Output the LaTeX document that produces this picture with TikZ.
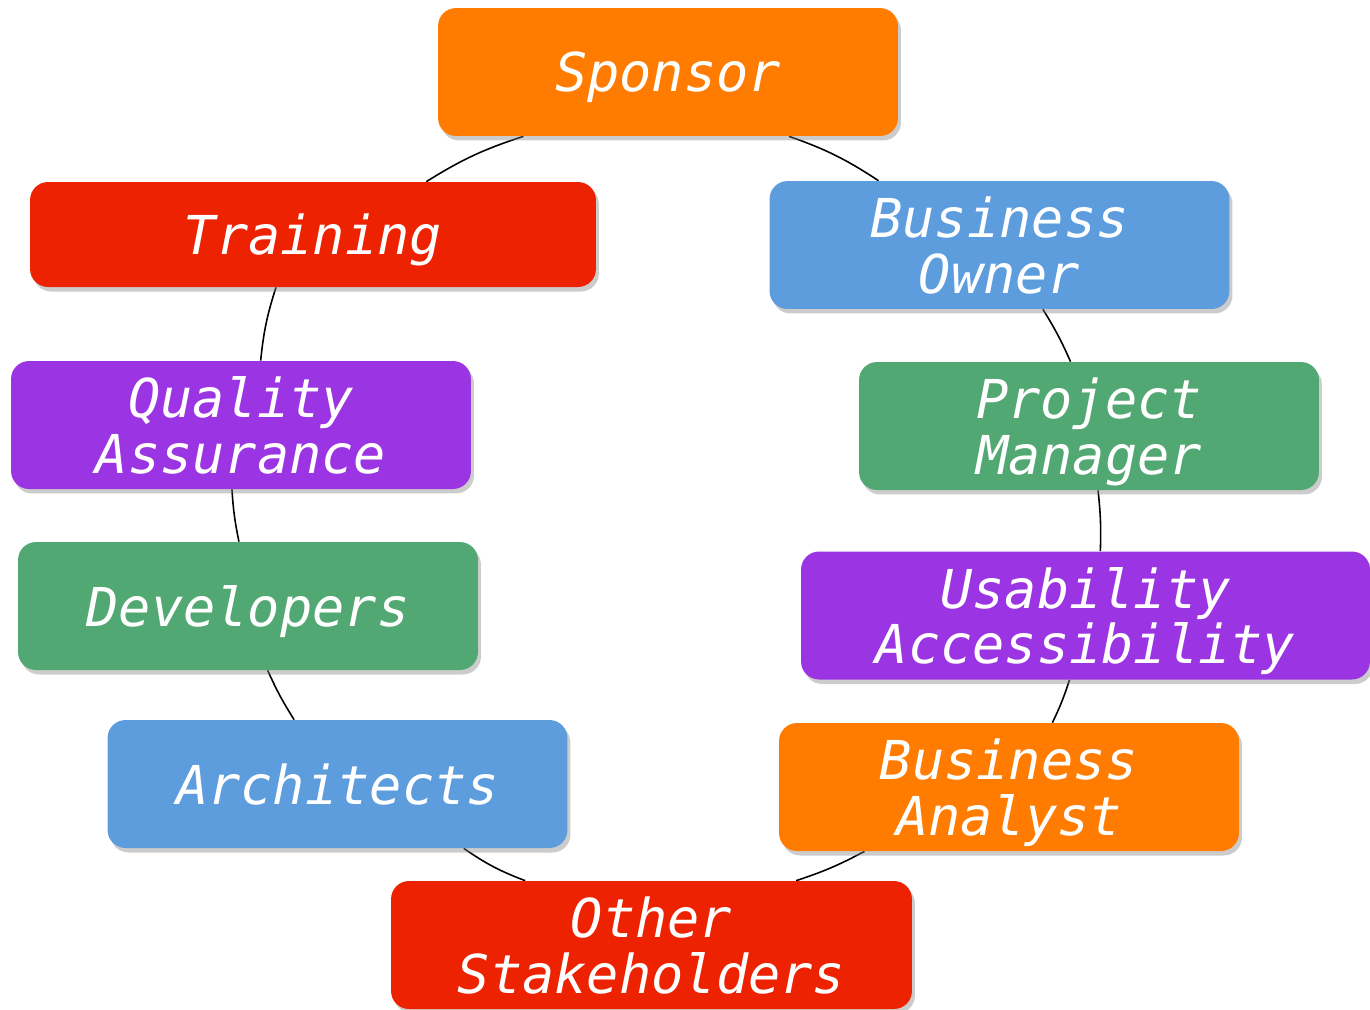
\documentclass[tikz,border=0pt]{standalone}
\usepackage{fontspec}
\setmonofont{DejaVu Sans Mono}
\usetikzlibrary{shadows,backgrounds}
\definecolor{rolorange}{RGB}{255,124,0}
\definecolor{rolred}{RGB}{237,34,0}
\definecolor{rolblue}{RGB}{93,157,222}
\definecolor{rolpurple}{RGB}{155,53,227}
\definecolor{rolgreen}{RGB}{82,168,114}

\begin{document}
\begin{tikzpicture}[x=0.02cm,y=-0.02cm,
    role/.style={rounded corners=0.36cm, minimum width=9.2cm, minimum height=2.56cm,
      inner sep=0pt, text=white, align=center, text depth=0pt,
      font=\fontsize{30.5}{31.5}\selectfont\ttfamily\itshape,
      drop shadow={opacity=0.4,shadow xshift=0.06cm,shadow yshift=-0.09cm}},
    link/.style={black, line width=0.9pt}]
  \useasboundingbox (0,0) rectangle (1370,1009);
  % boxes round the circle
  \node [role, fill=rolorange] (sponsor) at (668,72) {Sponsor};
  \node [role, fill=rolred, minimum width=11.32cm, minimum height=2.1cm] (training) at (313,234.5) {Training};
  \node [role, fill=rolblue] (owner) at (999.5,245) {Business\\Owner};
  \node [role, fill=rolpurple] (quality) at (241,425) {Quality\\Assurance};
  \node [role, fill=rolgreen] (manager) at (1089,426) {Project\\Manager};
  \node [role, fill=rolgreen] (developers) at (248,606) {Developers};
  \node [role, fill=rolpurple, minimum width=11.38cm] (usability) at (1085.5,615.5) {Usability\\Accessibility};
  \node [role, fill=rolblue] (architects) at (337.5,784) {Architects};
  \node [role, fill=rolorange] (analyst) at (1009,787) {Business\\Analyst};
  \node [role, fill=rolred, minimum width=10.42cm] (others) at (651.5,945) {Other\\Stakeholders};
  % arcs between the boxes
  \begin{scope}[on background layer]
    \draw [link] (sponsor.204) to[bend right=7] (training.25);
    \draw [link] (training.235) to[bend right=6] (quality.73);
    \draw [link] (quality.262) to[bend right=4] (developers.98);
    \draw [link] (developers.287) to[bend right=4] (architects.124);
    \draw [link] (architects.333) to[bend right=7] (others.153);
    \draw [link] (others.24) to[bend right=5] (analyst.204);
    \draw [link] (analyst.56) to[bend right=4] (usability.256);
    \draw [link] (usability.77) to[bend right=4] (manager.278);
    \draw [link] (manager.106) to[bend right=4] (owner.304);
    \draw [link] (owner.152) to[bend right=7] (sponsor.332);
  \end{scope}
\end{tikzpicture}
\end{document}
